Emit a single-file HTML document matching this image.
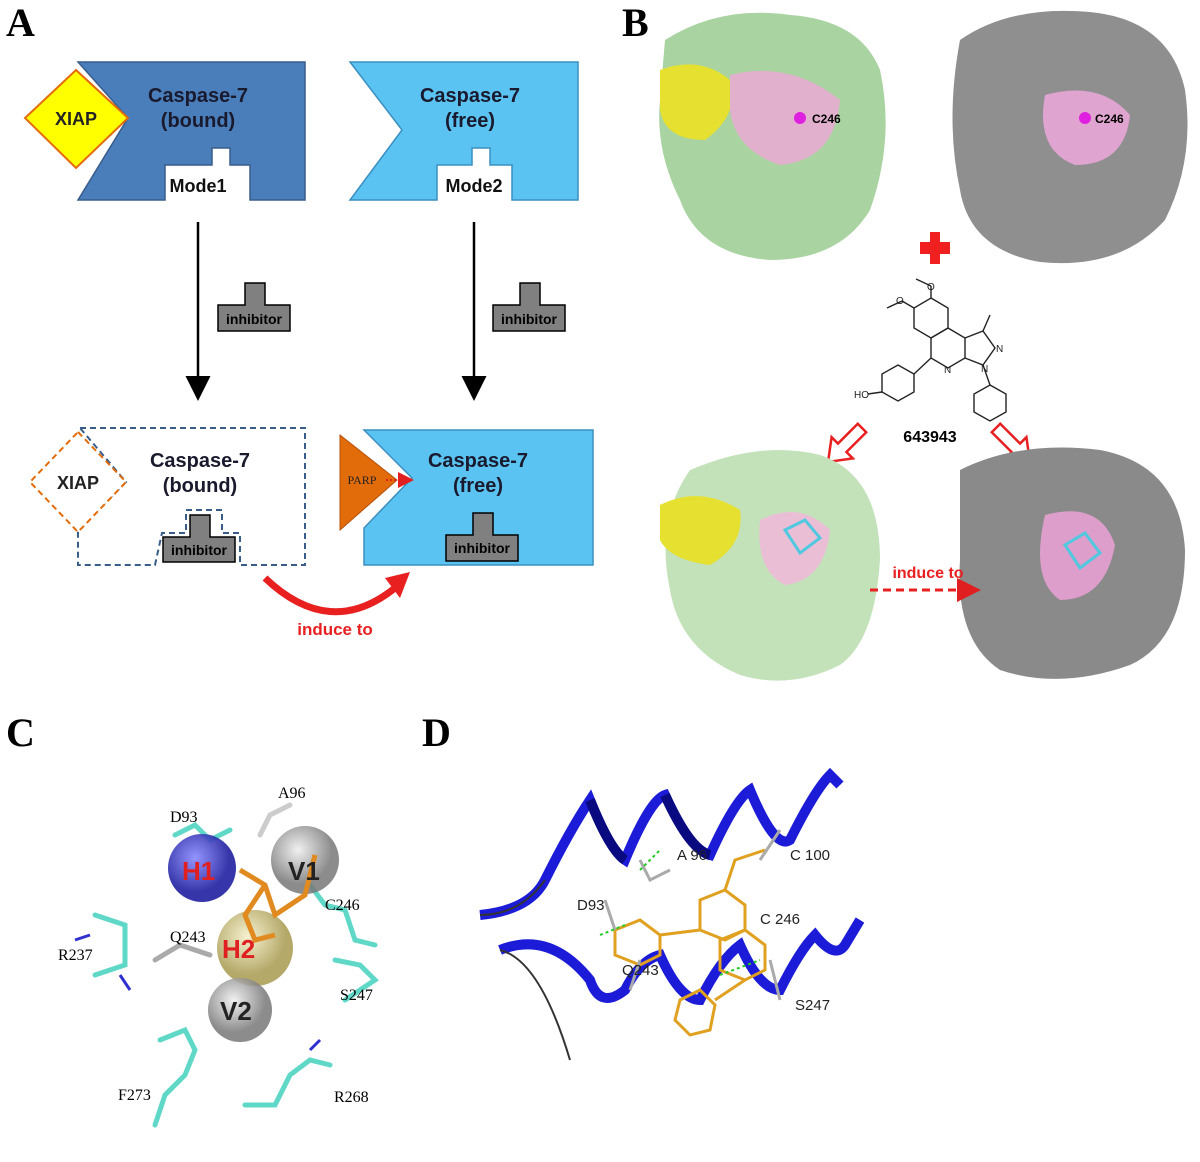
<!DOCTYPE html>
<html><head><meta charset="utf-8"><style>
body{margin:0;background:#fff;}
svg{display:block;font-family:"Liberation Sans",sans-serif;}
</style></head><body>
<svg width="1200" height="1162" viewBox="0 0 1200 1162" xmlns="http://www.w3.org/2000/svg">
<defs>
<marker id="ah" markerWidth="10" markerHeight="10" refX="8" refY="5" orient="auto"><path d="M0,0 L10,5 L0,10 z" fill="#000"/></marker>
<marker id="rh" markerWidth="8" markerHeight="8" refX="6" refY="4" orient="auto"><path d="M0,0 L8,4 L0,8 z" fill="#e02020"/></marker>
<radialGradient id="gs" cx="40%" cy="35%"><stop offset="0" stop-color="#eee"/><stop offset="1" stop-color="#777"/></radialGradient>
<radialGradient id="bs" cx="40%" cy="35%"><stop offset="0" stop-color="#8888ff"/><stop offset="1" stop-color="#2020a0"/></radialGradient>
<radialGradient id="ys" cx="40%" cy="35%"><stop offset="0" stop-color="#f4efc8"/><stop offset="1" stop-color="#a89a50"/></radialGradient>
</defs>
<g font-family="Liberation Serif,serif" font-weight="bold" font-size="40">
<text x="6" y="36">A</text><text x="622" y="36">B</text><text x="6" y="746">C</text><text x="422" y="746">D</text>
</g>
<!-- Panel A top -->
<path d="M78,62 L305,62 L305,200 L250,200 L250,165 L230,165 L230,148 L212,148 L212,165 L165,165 L165,200 L78,200 L128,118 Z" fill="#4a7ebb" stroke="#385d8a" stroke-width="1.5"/>
<polygon points="76,70 128,118 76,168 25,118" fill="#ffff00" stroke="#e36c0a" stroke-width="2"/>
<text x="76" y="125" text-anchor="middle" font-size="18" font-weight="bold" fill="#222">XIAP</text>
<text x="198" y="102" text-anchor="middle" font-size="20" font-weight="bold" fill="#1a1a2e">Caspase-7</text>
<text x="198" y="127" text-anchor="middle" font-size="20" font-weight="bold" fill="#1a1a2e">(bound)</text>
<text x="198" y="192" text-anchor="middle" font-size="18" font-weight="bold" fill="#111">Mode1</text>
<path d="M350,62 L578,62 L578,200 L512,200 L512,165 L490,165 L490,148 L472,148 L472,165 L437,165 L437,200 L350,200 L402,130 Z" fill="#5bc3f2" stroke="#3a8fc0" stroke-width="1.5"/>
<text x="470" y="102" text-anchor="middle" font-size="20" font-weight="bold" fill="#1a1a2e">Caspase-7</text>
<text x="470" y="127" text-anchor="middle" font-size="20" font-weight="bold" fill="#1a1a2e">(free)</text>
<text x="474" y="192" text-anchor="middle" font-size="18" font-weight="bold" fill="#111">Mode2</text>
<line x1="198" y1="222" x2="198" y2="396" stroke="#000" stroke-width="2.5" marker-end="url(#ah)"/>
<line x1="474" y1="222" x2="474" y2="396" stroke="#000" stroke-width="2.5" marker-end="url(#ah)"/>
<path d="M218,305 L245,305 L245,283 L265,283 L265,305 L290,305 L290,331 L218,331 Z" fill="#808080" stroke="#000" stroke-width="1.5"/>
<text x="254" y="324" text-anchor="middle" font-size="14" font-weight="bold" fill="#000">inhibitor</text>
<path d="M493,305 L520,305 L520,283 L540,283 L540,305 L565,305 L565,331 L493,331 Z" fill="#808080" stroke="#000" stroke-width="1.5"/>
<text x="529" y="324" text-anchor="middle" font-size="14" font-weight="bold" fill="#000">inhibitor</text>
<!-- Panel A bottom -->
<path d="M80,428 L305,428 L305,565 L240,565 L240,533 L222,533 L222,510 L186,510 L186,533 L162,533 L155,565 L78,565 L78,530 L126,482 Z" fill="none" stroke="#385d8a" stroke-width="2" stroke-dasharray="6,4"/>
<polygon points="78,432 126,482 78,532 30,482" fill="#fff" stroke="#e36c0a" stroke-width="2" stroke-dasharray="6,4"/>
<text x="78" y="489" text-anchor="middle" font-size="18" font-weight="bold" fill="#222">XIAP</text>
<text x="200" y="467" text-anchor="middle" font-size="20" font-weight="bold" fill="#1a1a2e">Caspase-7</text>
<text x="200" y="492" text-anchor="middle" font-size="20" font-weight="bold" fill="#1a1a2e">(bound)</text>
<path d="M163,537 L190,537 L190,515 L210,515 L210,537 L235,537 L235,562 L163,562 Z" fill="#808080" stroke="#000" stroke-width="1.5"/>
<text x="199" y="555" text-anchor="middle" font-size="14" font-weight="bold" fill="#000">inhibitor</text>
<path d="M364,430 L593,430 L593,565 L364,565 L364,528 L412,478 Z" fill="#5bc3f2" stroke="#3a8fc0" stroke-width="1.5"/>
<polygon points="340,435 397,480 340,530" fill="#e36c0a" stroke="#b45008"/>
<text x="362" y="484" text-anchor="middle" font-size="12" font-family="Liberation Serif,serif" fill="#222">PARP</text>
<line x1="386" y1="480" x2="410" y2="480" stroke="#e02020" stroke-width="2" stroke-dasharray="2,2" marker-end="url(#rh)"/>
<text x="478" y="467" text-anchor="middle" font-size="20" font-weight="bold" fill="#1a1a2e">Caspase-7</text>
<text x="478" y="492" text-anchor="middle" font-size="20" font-weight="bold" fill="#1a1a2e">(free)</text>
<path d="M446,535 L473,535 L473,513 L493,513 L493,535 L518,535 L518,561 L446,561 Z" fill="#808080" stroke="#000" stroke-width="1.5"/>
<text x="482" y="553" text-anchor="middle" font-size="14" font-weight="bold" fill="#000">inhibitor</text>
<path d="M265,578 Q330,640 395,588" fill="none" stroke="#e82020" stroke-width="7"/>
<polygon points="385,578 410,572 400,598" fill="#e82020"/>
<text x="335" y="635" text-anchor="middle" font-size="17" font-weight="bold" fill="#e82020">induce to</text>
<!-- Panel B -->
<path d="M665,40 Q720,5 790,15 Q860,20 880,70 Q895,140 870,210 Q840,260 770,260 Q700,255 680,200 Q655,150 660,100 Z" fill="#a9d3a0"/>
<path d="M660,70 Q700,55 730,80 Q740,115 705,140 Q665,140 660,110 Z" fill="#e6e030"/>
<path d="M730,75 Q790,60 840,100 Q835,160 780,165 Q735,150 730,110 Z" fill="#e0b0cc"/>
<circle cx="800" cy="118" r="6" fill="#e020e0"/>
<text x="812" y="123" font-size="12" font-weight="bold">C246</text>
<path d="M960,40 Q1010,5 1090,12 Q1170,20 1185,90 Q1195,160 1165,220 Q1120,270 1040,262 Q970,250 960,190 Q945,120 960,40 Z" fill="#8f8f8f"/>
<path d="M1045,95 Q1100,80 1130,115 Q1125,165 1075,165 Q1035,150 1045,95 Z" fill="#e0a4d0"/>
<circle cx="1085" cy="118" r="6" fill="#e020e0"/>
<text x="1095" y="123" font-size="12" font-weight="bold">C246</text>
<path d="M920,242 h10 v-10 h10 v10 h10 v12 h-10 v10 h-10 v-10 h-10z" fill="#f02020"/>
<g stroke="#222" stroke-width="1.4" fill="none">
<polygon points="931,298 948,308 948,328 931,338 914,328 914,308"/>
<polygon points="948,328 965,338 965,358 948,368 931,358 931,338"/>
<polyline points="965,338 983,331 995,348 983,365 965,358"/>
<polygon points="898,365 914,374 914,392 898,401 882,392 882,374"/>
<polygon points="990,385 1006,394 1006,412 990,421 974,412 974,394"/>
<line x1="931" y1="358" x2="914" y2="374"/><line x1="983" y1="365" x2="990" y2="385"/>
<line x1="931" y1="298" x2="931" y2="286"/><line x1="931" y1="286" x2="916" y2="279"/>
<line x1="914" y1="308" x2="902" y2="301"/><line x1="902" y1="301" x2="887" y2="308"/>
<line x1="983" y1="331" x2="990" y2="315"/><line x1="882" y1="392" x2="868" y2="394"/>
</g>
<g font-size="10" fill="#222"><text x="854" y="398">HO</text><text x="927" y="290">O</text><text x="896" y="304">O</text><text x="996" y="352">N</text><text x="981" y="372">N</text><text x="944" y="373">N</text></g>
<text x="930" y="442" text-anchor="middle" font-size="16" font-weight="bold">643943</text>
<polygon points="0,-6 28,-6 28,-15 48,0 28,15 28,6 0,6" fill="#fff" stroke="#e82020" stroke-width="2.5" transform="translate(862,428) rotate(135)"/>
<polygon points="0,-6 28,-6 28,-15 48,0 28,15 28,6 0,6" fill="#fff" stroke="#e82020" stroke-width="2.5" transform="translate(996,428) rotate(45)"/>
<path d="M690,470 Q760,440 820,455 Q880,475 880,560 Q875,640 840,665 Q790,690 740,675 Q680,650 670,590 Q655,520 690,470 Z" fill="#c3e2ba"/>
<path d="M660,505 Q700,485 740,510 Q745,545 710,565 Q670,560 660,540 Z" fill="#e6e030"/>
<path d="M760,520 Q800,500 830,530 Q825,580 785,585 Q755,570 760,520 Z" fill="#eabfd6"/>
<path d="M960,470 Q1020,440 1100,450 Q1180,465 1185,550 Q1185,640 1130,665 Q1060,690 1000,670 Q955,640 960,560 Z" fill="#8a8a8a"/>
<path d="M1045,515 Q1100,500 1115,545 Q1105,600 1060,600 Q1030,580 1045,515 Z" fill="#dd9ecb"/>
<path d="M1065,545 l20,-12 l15,20 l-20,15z" fill="none" stroke="#50c8e0" stroke-width="3"/>
<path d="M785,530 l20,-10 l15,18 l-20,15z" fill="none" stroke="#50c8e0" stroke-width="3"/>
<line x1="870" y1="590" x2="975" y2="590" stroke="#e82020" stroke-width="3" stroke-dasharray="8,5" marker-end="url(#rh)"/>
<text x="928" y="578" text-anchor="middle" font-size="16" font-weight="bold" fill="#e82020">induce to</text>
<!-- Panel C -->
<g stroke-width="5" fill="none" stroke-linecap="round">
<path d="M175,835 l20,-10 l15,15 l20,-10" stroke="#60d8c8"/>
<path d="M260,835 l10,-20 l20,-10" stroke="#ccc"/>
<path d="M310,885 l15,20 l20,5 l10,30 l20,5" stroke="#60d8c8"/>
<path d="M95,915 l30,10 l0,40 l-30,10" stroke="#60d8c8"/>
<path d="M155,960 l25,-15 l30,10" stroke="#aaa"/>
<path d="M335,960 l25,5 l15,15 l-30,20" stroke="#60d8c8"/>
<path d="M160,1040 l25,-10 l10,20 l-10,25 l-20,20 l-10,30" stroke="#60d8c8"/>
<path d="M245,1105 l30,0 l15,-30 l20,-15 l20,5" stroke="#60d8c8"/>
</g>
<g stroke-width="3" fill="none" stroke="#3030d0"><path d="M90,935 l-15,5 M120,975 l10,15 M310,1050 l10,-10"/></g>
<circle cx="202" cy="868" r="34" fill="url(#bs)" opacity="0.9"/>
<circle cx="305" cy="860" r="34" fill="url(#gs)" opacity="0.85"/>
<circle cx="255" cy="948" r="38" fill="url(#ys)" opacity="0.85"/>
<circle cx="240" cy="1010" r="32" fill="url(#gs)" opacity="0.85"/>
<path d="M240,870 l25,15 l10,30 l30,-20 l10,-40 M265,885 l-20,30 l10,25 l20,-5" stroke="#e08a20" stroke-width="5" fill="none"/>
<g font-weight="bold" font-size="26"><text x="182" y="880" fill="#e02020">H1</text><text x="222" y="958" fill="#e02020">H2</text><text x="288" y="880" fill="#222">V1</text><text x="220" y="1020" fill="#222">V2</text></g>
<g font-family="Liberation Serif,serif" font-size="16"><text x="170" y="822">D93</text><text x="278" y="798">A96</text><text x="325" y="910">C246</text><text x="170" y="942">Q243</text><text x="58" y="960">R237</text><text x="340" y="1000">S247</text><text x="118" y="1100">F273</text><text x="334" y="1102">R268</text></g>
<!-- Panel D -->
<path d="M480,915 Q530,910 545,880 Q570,830 590,800 Q610,850 625,860 Q650,800 665,795 Q690,850 710,855 Q735,800 750,790 Q775,850 790,840 Q815,790 830,775 L840,785" stroke="#1c1cd8" stroke-width="10" fill="none"/>
<path d="M590,800 Q610,850 625,860 M665,795 Q690,850 710,855" stroke="#0a0a80" stroke-width="10" fill="none"/>
<path d="M500,950 Q550,930 590,980 Q600,1010 625,990 Q640,960 660,955 Q680,1000 700,1000 Q720,960 740,945 Q760,990 780,990 Q800,950 815,935 Q835,960 845,945 L860,920" stroke="#1c1cd8" stroke-width="10" fill="none"/>
<path d="M500,950 Q540,960 570,1060" stroke="#333" stroke-width="2" fill="none"/>
<path d="M480,915 Q520,915 545,880" stroke="#333" stroke-width="2" fill="none"/>
<g stroke="#e0a020" stroke-width="3" fill="none">
<polygon points="615,930 640,920 660,935 660,955 640,965 615,955"/>
<polygon points="700,900 725,890 745,905 745,930 725,940 700,930"/>
<polygon points="720,940 745,930 765,945 765,970 745,980 720,970"/>
<polygon points="680,1000 700,990 715,1005 710,1030 690,1035 675,1020"/>
<path d="M660,935 l40,-5 M725,890 l10,-30 l30,-10 M745,980 l-30,20"/>
</g>
<g stroke="#aaa" stroke-width="3" fill="none"><path d="M605,900 l10,30 M640,860 l10,20 l20,-10 M760,860 l20,-30 M770,960 l10,40 M630,990 l10,-30"/></g>
<g stroke="#22cc22" stroke-width="2" stroke-dasharray="3,3"><line x1="600" y1="935" x2="625" y2="925"/><line x1="640" y1="870" x2="660" y2="850"/><line x1="720" y1="975" x2="760" y2="960"/></g>
<g font-size="15" fill="#222"><text x="677" y="860">A 96</text><text x="790" y="860">C 100</text><text x="577" y="910">D93</text><text x="760" y="924">C 246</text><text x="622" y="975">Q243</text><text x="795" y="1010">S247</text></g>
</svg>
</body></html>
